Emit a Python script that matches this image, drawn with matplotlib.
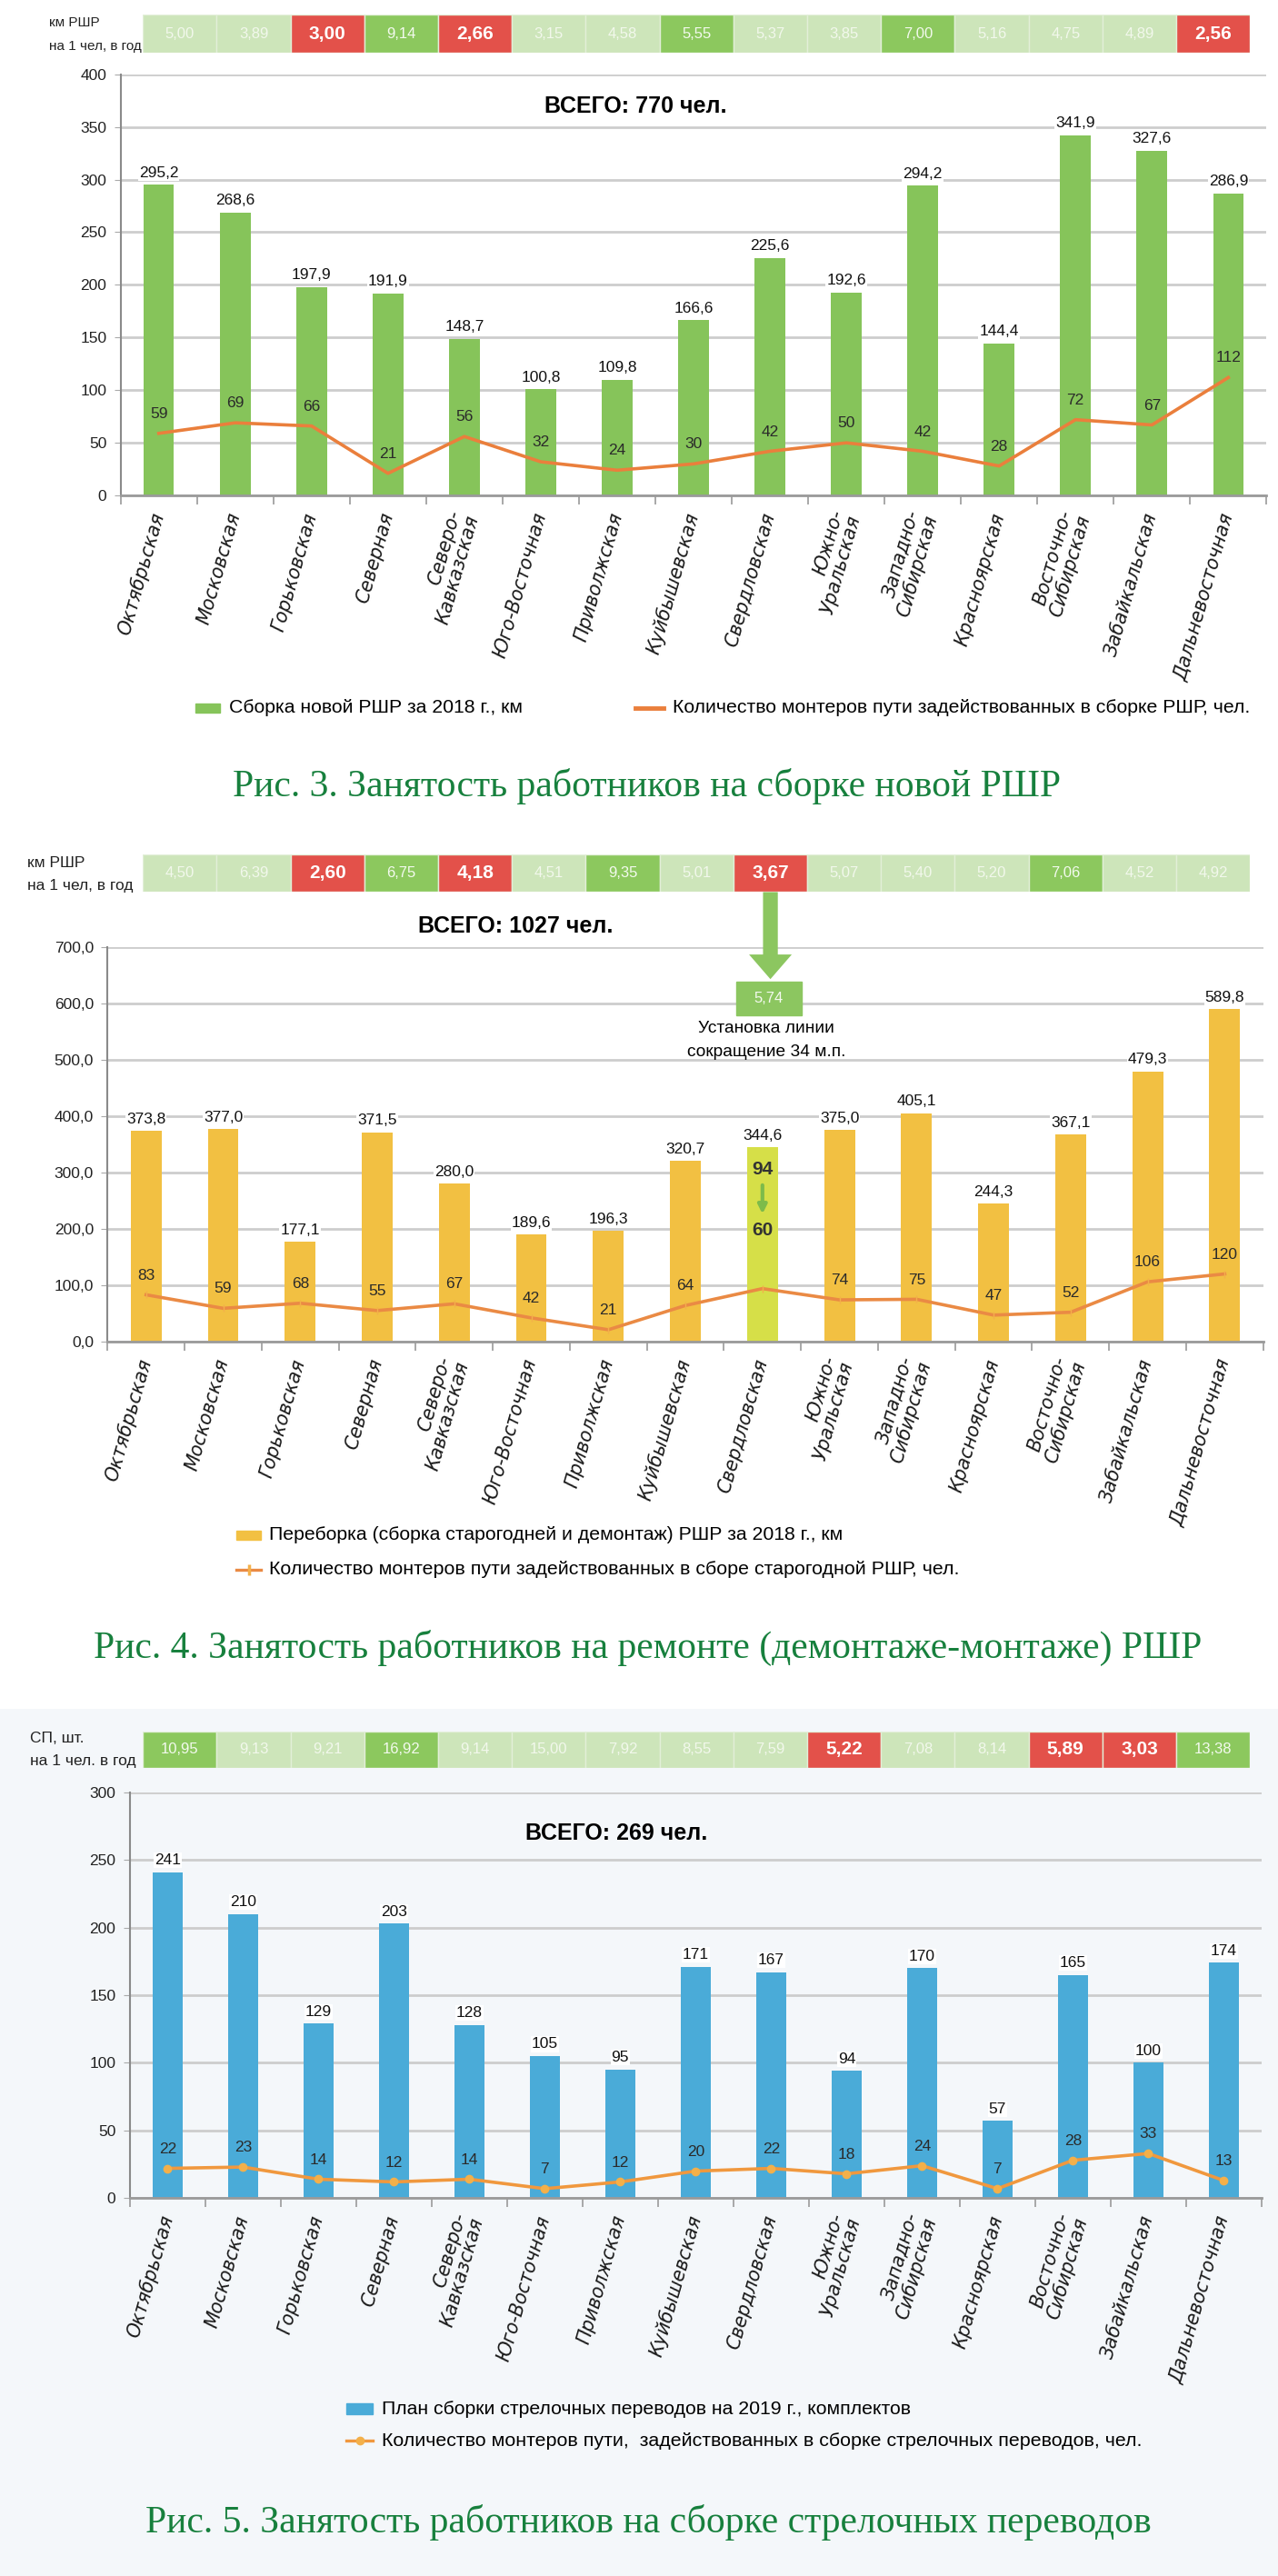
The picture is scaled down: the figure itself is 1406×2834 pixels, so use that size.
import matplotlib
matplotlib.use('Agg')
import matplotlib.pyplot as plt
from matplotlib.patches import Rectangle, FancyArrow
import numpy as np

plt.rcParams['font.family'] = ['Liberation Sans', 'DejaVu Sans']

# ---------------- data ----------------
roads = ['Октябрьская', 'Московская', 'Горьковская', 'Северная', 'Северо-\nКавказская',
         'Юго-Восточная', 'Приволжская', 'Куйбышевская', 'Свердловская', 'Южно-\nУральская',
         'Западно-\nСибирская', 'Красноярская', 'Восточно-\nСибирская', 'Забайкальская',
         'Дальневосточная']

# Fig. 3 - new RSHR assembly
new_km = [295.2, 268.6, 197.9, 191.9, 148.7, 100.8, 109.8, 166.6, 225.6, 192.6, 294.2, 144.4, 341.9, 327.6, 286.9]
new_workers = [59, 69, 66, 21, 56, 32, 24, 30, 42, 50, 42, 28, 72, 67, 112]
new_ratio = ['5,00', '3,89', '3,00', '9,14', '2,66', '3,15', '4,58', '5,55', '5,37', '3,85',
             '7,00', '5,16', '4,75', '4,89', '2,56']
new_flag = ['mid', 'mid', 'low', 'high', 'low', 'mid', 'mid', 'high', 'mid', 'mid',
            'high', 'mid', 'mid', 'mid', 'low']

# Fig. 4 - repair (dismantle/assembly) RSHR
old_km = [373.8, 377.0, 177.1, 371.5, 280.0, 189.6, 196.3, 320.7, 344.6, 375.0, 405.1, 244.3, 367.1, 479.3, 589.8]
old_workers = [83, 59, 68, 55, 67, 42, 21, 64, 94, 74, 75, 47, 52, 106, 120]
old_ratio = ['4,50', '6,39', '2,60', '6,75', '4,18', '4,51', '9,35', '5,01', '3,67', '5,07',
             '5,40', '5,20', '7,06', '4,52', '4,92']
old_flag = ['mid', 'mid', 'low', 'high', 'low', 'mid', 'high', 'mid', 'low', 'mid',
            'mid', 'mid', 'high', 'mid', 'mid']
sverd_after = 60
sverd_ratio_after = '5,74'

# Fig. 5 - switch assembly
sp_plan = [241, 210, 129, 203, 128, 105, 95, 171, 167, 94, 170, 57, 165, 100, 174]
sp_workers = [22, 23, 14, 12, 14, 7, 12, 20, 22, 18, 24, 7, 28, 33, 13]
sp_ratio = ['10,95', '9,13', '9,21', '16,92', '9,14', '15,00', '7,92', '8,55', '7,59', '5,22',
            '7,08', '8,14', '5,89', '3,03', '13,38']
sp_flag = ['high', 'mid', 'mid', 'high', 'mid', 'mid', 'mid', 'mid', 'mid', 'low',
           'mid', 'mid', 'low', 'low', 'high']

# ---------------- layout helpers (coords in 778x1568 frame) ----------------
W, H = 1406, 2834
fig = plt.figure(figsize=(W / 100, H / 100), dpi=100)
fig.patch.set_facecolor('white')
RW, RH = 778.0, 1568.0


def add_ax(x0, y0, x1, y1, **kw):
    return fig.add_axes([x0 / RW, 1 - y1 / RH, (x1 - x0) / RW, (y1 - y0) / RH], **kw)


back = fig.add_axes([0, 0, 1, 1], zorder=-5)
back.set_xlim(0, RW)
back.set_ylim(RH, 0)
back.axis('off')
back.add_patch(Rectangle((0, 1040), RW, RH - 1040, color='#f4f7fa', lw=0))

over = fig.add_axes([0, 0, 1, 1], zorder=10)
over.set_xlim(0, RW)
over.set_ylim(RH, 0)
over.axis('off')
over.patch.set_alpha(0)

CELL = {'mid': '#cde5ba', 'high': '#8cc85e', 'low': '#e3514a'}
TXT = {'mid': '#f2f8ec', 'high': '#f3faee', 'low': 'white'}
CAPTION = '#17803d'


def strip(y0, y1, values, flags, label, lx, ly, lsize):
    ax = add_ax(87, y0, 761, y1)
    ax.set_xlim(0, len(values))
    ax.set_ylim(0, 1)
    ax.axis('off')
    for i, (v, f) in enumerate(zip(values, flags)):
        ax.add_patch(Rectangle((i, 0), 1, 1, facecolor=CELL[f], edgecolor='#e2efd8', lw=1.0))
        ax.text(i + 0.5, 0.5, v, ha='center', va='center', color=TXT[f],
                fontsize=15 if f == 'low' else 12, fontweight='bold' if f == 'low' else 'normal')
    over.text(lx, ly[0], label[0], ha='left', va='center', fontsize=lsize, color='#222222')
    over.text(lx, ly[1], label[1], ha='left', va='center', fontsize=lsize, color='#222222')
    return ax


def chart(box, ymax, ystep, bars, line, bar_color, line_color, bar_fmt, tick_fmt,
          marker=None, bar_width=0.40, bar_colors=None, skip_line_label=()):
    ax = add_ax(*box)
    ax.patch.set_alpha(0)
    x = np.arange(len(bars))
    ax.bar(x, bars, width=bar_width, color=bar_colors if bar_colors else bar_color, zorder=2)
    ax.plot(x, line, color=line_color, lw=2.6, marker=marker, ms=6,
            markerfacecolor='#f3b04a', markeredgecolor='#f3b04a', zorder=3)
    ax.set_xlim(-0.5, len(bars) - 0.5)
    ax.set_ylim(0, ymax)
    ticks = np.arange(0, ymax + 0.1, ystep)
    ax.set_yticks(ticks)
    ax.set_yticklabels([tick_fmt(t) for t in ticks], fontsize=12.5, color='#222222')
    ax.grid(axis='y', color='#cdcdcd', lw=2.0, zorder=0)
    ax.set_axisbelow(True)
    for s in ('top', 'right'):
        ax.spines[s].set_visible(False)
    ax.spines['left'].set_color('#8a8a8a')
    ax.spines['left'].set_linewidth(1.5)
    ax.spines['bottom'].set_color('#9a9a9a')
    ax.spines['bottom'].set_linewidth(2)
    ax.tick_params(axis='y', length=5, color='#aaaaaa', pad=6)
    ax.set_xticks(x)
    ax.set_xticklabels(roads, rotation=74, ha='right', va='center', rotation_mode='anchor',
                       fontsize=14.8, fontstyle='italic', family='DejaVu Sans',
                       color='#1a1a1a', linespacing=1.0)
    ax.set_xticks(np.arange(-0.5, len(bars), 1.0), minor=True)
    ax.tick_params(axis='x', which='major', length=0, pad=14)
    ax.tick_params(axis='x', which='minor', length=7, color='#9a9a9a', width=1.2)
    for i, v in enumerate(bars):
        ax.annotate(bar_fmt(v), (i, v), xytext=(0, 4), textcoords='offset points',
                    ha='center', va='bottom', fontsize=12.5, color='#111111',
                    bbox=dict(fc='white', ec='none', pad=0.8), zorder=5)
    for i, v in enumerate(line):
        if i in skip_line_label:
            continue
        ax.annotate(str(v), (i, v), xytext=(0, 10), textcoords='offset points',
                    ha='center', va='bottom', fontsize=12.5, color='#2a2a2a', zorder=5)
    return ax


def comma1(v):
    return f'{v:.1f}'.replace('.', ',')


def intf(v):
    return f'{int(round(v))}'


LEG = 15.3

# ---------------- Fig. 3 ----------------
strip(9, 32, new_ratio, new_flag, ('км РШР', 'на 1 чел, в год'), 30, (14, 28), 11)
chart((73.4, 45.2, 771, 301.6), 400, 50, new_km, new_workers, '#86c45a', '#ea7f3c', comma1, intf)
over.text(387, 64.7, 'ВСЕГО: 770 чел.', ha='center', va='center', fontsize=18, fontweight='bold')
over.add_patch(Rectangle((119, 428.5), 15, 5.5, color='#86c45a'))
over.text(139.5, 431, 'Сборка новой РШР за 2018 г., км', ha='left', va='center', fontsize=LEG)
over.plot([387, 404], [431, 431], color='#ea7f3c', lw=3.5)
over.text(409.5, 431, 'Количество монтеров пути задействованных в сборке РШР, чел.',
          ha='left', va='center', fontsize=LEG)
over.text(393.5, 478.5, 'Рис. 3. Занятость работников на сборке новой РШР', ha='center',
          va='center', fontsize=30, family='Liberation Serif', color=CAPTION)

# ---------------- Fig. 4 ----------------
strip(520, 543, old_ratio, old_flag, ('км РШР', 'на 1 чел, в год'), 16.6, (525.6, 539.4), 12.5)
isv = roads.index('Свердловская')
old_colors = ['#f2c042'] * len(old_km)
old_colors[isv] = '#d6df48'
ax2 = chart((65.5, 576.5, 769, 816.6), 700, 100, old_km, old_workers, '#f2c042', '#ea8a44',
            comma1, comma1, marker='|', bar_colors=old_colors, skip_line_label=(isv,))
ax2.text(isv, 305, str(old_workers[isv]), ha='center', va='center', fontsize=15,
         fontweight='bold', color='#333333', zorder=6)
ax2.text(isv, 197, str(sverd_after), ha='center', va='center', fontsize=15,
         fontweight='bold', color='#333333', zorder=6)
ax2.annotate('', xy=(isv, 222), xytext=(isv, 282),
             arrowprops=dict(arrowstyle='-|>', color='#7dbb4a', lw=3, mutation_scale=14), zorder=6)
over.text(314, 564, 'ВСЕГО: 1027 чел.', ha='center', va='center', fontsize=18, fontweight='bold')
over.add_patch(FancyArrow(469, 543, 0, 53, width=9, head_width=26, head_length=15,
                          length_includes_head=True, color='#8cc660', lw=0))
over.add_patch(Rectangle((448, 597.5), 40, 20.5, color='#8cc660'))
over.text(468, 607.8, sverd_ratio_after, ha='center', va='center', fontsize=12, color='#f4faef')
over.text(466.5, 626.3, 'Установка линии', ha='center', va='center', fontsize=13.8)
over.text(466.5, 640.7, 'сокращение 34 м.п.', ha='center', va='center', fontsize=13.8)
over.add_patch(Rectangle((144, 931.5), 15, 5.5, color='#f2c042'))
over.text(164, 934, 'Переборка (сборка старогодней и демонтаж) РШР за 2018 г., км',
          ha='left', va='center', fontsize=LEG)
over.plot([144, 159], [955.5, 955.5], color='#ea8a44', lw=2.4)
over.plot([151.5], [955.5], marker='|', color='#f3b04a', ms=9, mew=2.5)
over.text(164, 955.5, 'Количество монтеров пути задействованных в сборе старогодной РШР, чел.',
          ha='left', va='center', fontsize=15.4)
over.text(394.5, 1003, 'Рис. 4. Занятость работников на ремонте (демонтаже-монтаже) РШР',
          ha='center', va='center', fontsize=30, family='Liberation Serif', color=CAPTION)

# ---------------- Fig. 5 ----------------
strip(1054, 1076, sp_ratio, sp_flag, ('СП, шт.', 'на 1 чел. в год'), 18, (1058, 1072), 12.5)
chart((79, 1091, 768, 1338), 300, 50, sp_plan, sp_workers, '#4aabd8', '#f0983e', intf, intf,
      marker='o')
over.text(375, 1116, 'ВСЕГО: 269 чел.', ha='center', va='center', fontsize=18, fontweight='bold')
over.add_patch(Rectangle((211, 1463), 16, 6.5, color='#4aabd8'))
over.text(232.4, 1466.2, 'План сборки стрелочных переводов на 2019 г., комплектов',
          ha='left', va='center', fontsize=LEG)
over.plot([211, 227], [1485.6, 1485.6], color='#f0983e', lw=2.4)
over.plot([219], [1485.6], marker='o', color='#f3b04a', ms=6)
over.text(232.4, 1485.6, 'Количество монтеров пути,  задействованных в сборке стрелочных переводов, чел.',
          ha='left', va='center', fontsize=15.4)
over.text(394.5, 1535.3, 'Рис. 5. Занятость работников на сборке стрелочных переводов',
          ha='center', va='center', fontsize=30, family='Liberation Serif', color=CAPTION)

fig.savefig('out.png', dpi=100, facecolor='white')
